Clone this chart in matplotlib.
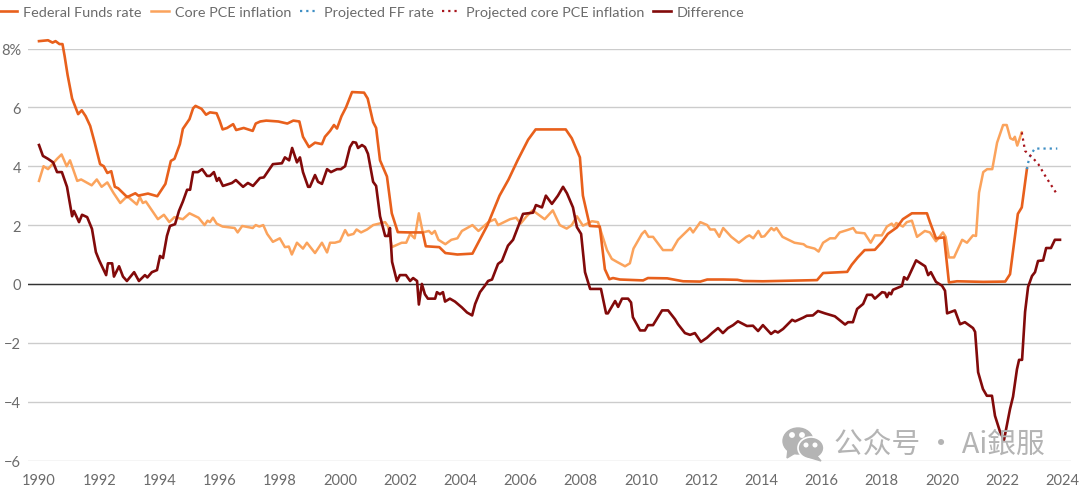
import matplotlib
matplotlib.use("Agg")

import matplotlib.pyplot as plt
from matplotlib.patches import Ellipse, Polygon

plt.rcParams["font.family"] = ["Lato", "Noto Sans CJK SC", "DejaVu Sans"]

ff_years = [1990.0, 1990.3, 1990.45, 1990.55, 1990.68, 1990.78, 1990.85, 1990.95, 1991.1, 1991.3, 1991.42, 1991.55, 1991.7,
            1991.85, 1992.03, 1992.15, 1992.27, 1992.4, 1992.52, 1992.63, 1992.93, 1993.2, 1993.3, 1993.62, 1993.93,
            1994.2, 1994.38, 1994.5, 1994.68, 1994.78, 1995.0, 1995.12, 1995.2, 1995.4, 1995.55, 1995.68, 1995.9,
            1996.0, 1996.1, 1996.25, 1996.45, 1996.55, 1996.8, 1997.1, 1997.2, 1997.35, 1997.55, 1997.95, 1998.25,
            1998.45, 1998.65, 1998.77, 1998.97, 1999.17, 1999.4, 1999.5, 1999.67, 1999.8, 1999.9, 2000.05, 2000.2,
            2000.4, 2000.8, 2000.92, 2001.1, 2001.2, 2001.33, 2001.56, 2001.72, 2001.92, 2002.3, 2002.75, 2002.85,
            2003.3, 2003.5, 2003.9, 2004.4, 2004.9, 2005.3, 2005.6, 2005.9, 2006.25, 2006.5, 2007.5, 2007.7, 2007.97,
            2008.07, 2008.3, 2008.63, 2008.8, 2008.95, 2009.07, 2009.3, 2010.07, 2010.23, 2010.87, 2011.4, 2011.97,
            2012.2, 2012.73, 2013.2, 2013.4, 2014.05, 2015.3, 2015.7, 2015.85, 2016.05, 2016.85, 2017.0, 2017.2,
            2017.43, 2017.77, 2018.0, 2018.2, 2018.5, 2018.7, 2019.0, 2019.5, 2019.6, 2019.8, 2020.07, 2020.23,
            2020.5, 2021.37, 2022.1, 2022.26, 2022.52, 2022.65, 2022.82]
ff_rate = [8.25, 8.28, 8.2, 8.25, 8.15, 8.15, 7.75, 7.1, 6.3, 5.77, 5.9, 5.7, 5.37,
           4.8, 4.07, 4.0, 3.77, 3.83, 3.3, 3.25, 2.95, 3.08, 3.0, 3.07, 2.98,
           3.4, 4.18, 4.25, 4.75, 5.27, 5.6, 5.97, 6.05, 5.95, 5.75, 5.83, 5.8,
           5.55, 5.25, 5.3, 5.43, 5.23, 5.3, 5.2, 5.45, 5.52, 5.55, 5.52, 5.45,
           5.55, 5.52, 5.0, 4.65, 4.8, 4.75, 5.0, 5.2, 5.4, 5.28, 5.7, 6.0,
           6.52, 6.5, 6.3, 5.5, 5.3, 4.2, 3.65, 2.4, 1.76, 1.75, 1.75, 1.28,
           1.25, 1.05, 1.0, 1.03, 2.0, 3.0, 3.55, 4.2, 4.9, 5.25, 5.25, 4.95, 4.3,
           3.0, 1.97, 1.95, 0.5, 0.16, 0.2, 0.15, 0.12, 0.2, 0.19, 0.09, 0.08,
           0.15, 0.15, 0.14, 0.1, 0.09, 0.12, 0.13, 0.13, 0.37, 0.41, 0.65, 0.9,
           1.15, 1.16, 1.42, 1.7, 1.92, 2.2, 2.4, 2.4, 2.1, 1.55, 1.58, 0.05,
           0.09, 0.07, 0.08, 0.33, 2.38, 2.6, 3.9]

pce_years = [1990.0, 1990.15, 1990.3, 1990.6, 1990.75, 1990.92, 1991.03, 1991.27, 1991.4, 1991.75, 1991.92, 1992.08,
             1992.27, 1992.47, 1992.7, 1992.93, 1993.25, 1993.35, 1993.45, 1993.55, 1993.95, 1994.15, 1994.33, 1994.5,
             1994.78, 1995.0, 1995.3, 1995.5, 1995.6, 1995.68, 1995.78, 1995.9, 1996.1, 1996.5, 1996.6, 1996.75, 1997.1,
             1997.2, 1997.32, 1997.45, 1997.58, 1997.77, 1998.0, 1998.17, 1998.3, 1998.4, 1998.57, 1998.77, 1998.9,
             1999.17, 1999.4, 1999.57, 1999.67, 1999.83, 2000.0, 2000.17, 2000.27, 2000.45, 2000.55, 2000.7, 2000.9,
             2001.1, 2001.5, 2001.6, 2001.72, 2002.05, 2002.2, 2002.33, 2002.48, 2002.62, 2002.75, 2002.95, 2003.05,
             2003.15, 2003.27, 2003.5, 2003.7, 2003.9, 2004.05, 2004.4, 2004.6, 2004.93, 2005.15, 2005.25, 2005.65, 2005.85,
             2006.0, 2006.2, 2006.4, 2006.8, 2007.07, 2007.3, 2007.53, 2007.7, 2007.87, 2008.07, 2008.37, 2008.57, 2008.87,
             2009.03, 2009.2, 2009.47, 2009.63, 2009.75, 2010.03, 2010.13, 2010.25, 2010.4, 2010.73, 2011.03, 2011.23,
             2011.63, 2011.73, 2011.97, 2012.2, 2012.3, 2012.45, 2012.6, 2012.73, 2013.0, 2013.25, 2013.5, 2013.6, 2013.73,
             2013.9, 2014.0, 2014.1, 2014.33, 2014.42, 2014.5, 2014.7, 2015.1, 2015.4, 2015.5, 2015.77, 2015.9, 2016.05,
             2016.28, 2016.45, 2016.6, 2016.85, 2017.05, 2017.15, 2017.43, 2017.63, 2017.77, 2018.0, 2018.17, 2018.33,
             2018.4, 2018.48, 2018.7, 2018.83, 2019.0, 2019.17, 2019.43, 2019.6, 2019.8, 2020.03, 2020.12, 2020.23,
             2020.4, 2020.67, 2020.83, 2021.03, 2021.13, 2021.23, 2021.37, 2021.5, 2021.67, 2021.83, 2022.03, 2022.15,
             2022.27, 2022.37, 2022.42, 2022.5, 2022.65]
pce_rate = [3.5, 4.0, 3.9, 4.25, 4.4, 4.0, 4.2, 3.5, 3.55, 3.35, 3.55, 3.3,
            3.45, 3.1, 2.75, 2.98, 2.7, 2.95, 2.75, 2.8, 2.2, 2.35, 2.1, 2.27,
            2.2, 2.4, 2.25, 2.0, 2.15, 2.1, 2.25, 2.05, 1.95, 1.9, 1.75, 1.97, 1.9,
            2.0, 1.95, 2.0, 1.7, 1.43, 1.55, 1.25, 1.27, 1.0, 1.4, 1.2, 1.4,
            1.05, 1.4, 1.07, 1.4, 1.4, 1.45, 1.83, 1.65, 1.7, 1.85, 1.75, 1.85,
            2.0, 2.1, 1.95, 1.25, 1.4, 1.4, 1.7, 1.55, 2.4, 1.75, 1.8, 1.7,
            1.8, 1.5, 1.35, 1.5, 1.55, 1.8, 2.0, 1.8, 2.1, 2.2, 2.0, 2.2, 2.25,
            2.05, 2.3, 2.5, 2.2, 2.5, 2.0, 1.88, 2.0, 2.3, 1.98, 2.13, 2.1, 1.15,
            0.85, 0.75, 0.6, 0.7, 1.2, 1.7, 1.8, 1.6, 1.6, 1.15, 1.15, 1.5,
            1.9, 1.75, 2.1, 2.0, 1.85, 1.85, 1.6, 1.9, 1.6, 1.4, 1.6, 1.65, 1.55,
            1.8, 1.6, 1.62, 1.9, 1.82, 1.9, 1.6, 1.4, 1.35, 1.27, 1.2, 1.1, 1.4,
            1.55, 1.55, 1.75, 1.83, 1.9, 1.75, 1.72, 1.4, 1.65, 1.65, 1.95, 2.05,
            1.95, 2.07, 1.95, 2.1, 2.15, 1.6, 1.8, 1.75, 1.45, 1.75, 1.6, 0.9,
            0.9, 1.5, 1.4, 1.65, 1.63, 3.1, 3.8, 3.9, 3.9, 4.8, 5.4, 5.4,
            4.95, 4.9, 5.0, 4.7, 5.15]

proj_ff_years = [2022.82, 2022.9, 2023.08, 2023.83]
proj_ff = [3.9, 4.3, 4.6, 4.6]

proj_pce_years = [2022.65, 2022.76, 2023.0, 2023.2, 2023.43, 2023.8]
proj_pce = [5.15, 4.52, 4.3, 4.07, 3.67, 3.08]

diff_years = [1990.0, 1990.13, 1990.3, 1990.47, 1990.6, 1990.76, 1990.93, 1991.1, 1991.16, 1991.33,
              1991.43, 1991.6, 1991.76, 1991.89, 1992.0, 1992.23, 1992.29, 1992.43, 1992.49, 1992.66,
              1992.79, 1992.92, 1993.16, 1993.32, 1993.52, 1993.6, 1993.75, 1993.92, 1994.02, 1994.12,
              1994.25, 1994.35, 1994.52, 1994.65, 1994.78, 1994.92, 1995.02, 1995.12, 1995.28, 1995.42,
              1995.58, 1995.68, 1995.81, 1995.91, 1995.98, 1996.11, 1996.41, 1996.54, 1996.78, 1996.94,
              1997.11, 1997.34, 1997.47, 1997.77, 1998.07, 1998.17, 1998.31, 1998.41, 1998.57, 1998.67,
              1998.77, 1998.94, 1999.0, 1999.17, 1999.27, 1999.4, 1999.57, 1999.7, 1999.9, 2000.03,
              2000.17, 2000.33, 2000.43, 2000.53, 2000.6, 2000.73, 2000.83, 2000.93, 2001.1, 2001.2,
              2001.33, 2001.5, 2001.6, 2001.66, 2001.73, 2001.89, 2001.99, 2002.19, 2002.33, 2002.43,
              2002.56, 2002.62, 2002.72, 2002.82, 2002.92, 2003.16, 2003.22, 2003.32, 2003.42, 2003.49,
              2003.65, 2003.82, 2004.05, 2004.22, 2004.39, 2004.49, 2004.65, 2004.82, 2004.92, 2005.05,
              2005.25, 2005.38, 2005.58, 2005.75, 2006.08, 2006.25, 2006.41, 2006.51, 2006.71, 2006.84,
              2007.04, 2007.24, 2007.41, 2007.54, 2007.74, 2007.87, 2008.01, 2008.14, 2008.31, 2008.67,
              2008.84, 2008.9, 2009.14, 2009.24, 2009.37, 2009.57, 2009.67, 2009.73, 2009.97, 2010.13,
              2010.23, 2010.4, 2010.7, 2010.9, 2011.13, 2011.23, 2011.46, 2011.63, 2011.79, 2011.99,
              2012.19, 2012.36, 2012.56, 2012.72, 2012.89, 2013.06, 2013.22, 2013.52, 2013.72, 2013.89,
              2014.05, 2014.32, 2014.45, 2014.55, 2014.72, 2015.02, 2015.12, 2015.38, 2015.51, 2015.71,
              2015.88, 2016.11, 2016.44, 2016.78, 2016.88, 2017.04, 2017.18, 2017.38, 2017.51, 2017.67,
              2017.77, 2018.01, 2018.11, 2018.17, 2018.24, 2018.31, 2018.37, 2018.67, 2018.74, 2018.84,
              2018.9, 2019.14, 2019.44, 2019.54, 2019.63, 2019.8, 2020.0, 2020.1, 2020.17, 2020.43,
              2020.6, 2020.76, 2021.03, 2021.1, 2021.2, 2021.36, 2021.49, 2021.66, 2021.76, 2021.93,
              2022.06, 2022.26, 2022.36, 2022.49, 2022.56, 2022.66, 2022.76, 2022.86, 2022.99, 2023.09,
              2023.19, 2023.36, 2023.46, 2023.62, 2023.75, 2023.92]
difference = [4.72, 4.35, 4.25, 4.13, 3.8, 3.8, 3.3, 2.3, 2.48, 2.1,
              2.35, 2.27, 1.87, 1.08, 0.8, 0.3, 0.7, 0.7, 0.25, 0.6,
              0.25, 0.1, 0.4, 0.1, 0.3, 0.22, 0.4, 0.47, 0.95, 0.88,
              1.63, 1.97, 2.03, 2.48, 2.8, 3.2, 3.2, 3.8, 3.8, 3.9,
              3.67, 3.67, 3.8, 3.5, 3.6, 3.33, 3.43, 3.53, 3.3, 3.43,
              3.33, 3.6, 3.62, 4.07, 4.1, 4.3, 4.2, 4.62, 4.13, 4.3,
              3.8, 3.3, 3.3, 3.7, 3.47, 3.4, 3.9, 3.8, 3.9, 3.9,
              4.0, 4.65, 4.82, 4.8, 4.62, 4.72, 4.65, 4.42, 3.47, 3.33,
              2.3, 1.63, 1.63, 1.9, 0.75, 0.1, 0.3, 0.3, 0.1, 0.2,
              0.1, -0.7, 0.0, -0.35, -0.5, -0.5, -0.28, -0.35, -0.28, -0.6,
              -0.5, -0.6, -0.8, -0.97, -1.07, -0.68, -0.28, -0.05, 0.1, 0.15,
              0.68, 0.78, 1.3, 1.5, 2.38, 2.4, 2.42, 2.68, 2.6, 3.0,
              2.72, 3.0, 3.3, 3.08, 2.6, 1.93, 1.7, 0.4, -0.17, -0.17,
              -1.0, -1.0, -0.58, -0.78, -0.5, -0.5, -0.63, -1.13, -1.58, -1.58,
              -1.4, -1.4, -0.9, -0.9, -1.2, -1.37, -1.67, -1.73, -1.67, -1.97,
              -1.83, -1.67, -1.5, -1.67, -1.5, -1.4, -1.27, -1.43, -1.42, -1.6,
              -1.4, -1.7, -1.6, -1.65, -1.53, -1.22, -1.27, -1.15, -1.08, -1.07,
              -0.92, -1.0, -1.1, -1.38, -1.3, -1.3, -0.85, -0.68, -0.37, -0.37,
              -0.5, -0.28, -0.3, -0.45, -0.3, -0.35, -0.2, -0.07, 0.23, 0.15,
              0.27, 0.8, 0.6, 0.3, 0.4, 0.07, -0.06, -0.23, -1.0, -0.9,
              -1.37, -1.3, -1.5, -1.63, -3.0, -3.57, -3.8, -3.8, -4.48, -5.03,
              -5.3, -4.25, -3.83, -2.9, -2.58, -2.58, -0.95, -0.1, 0.27, 0.4,
              0.78, 0.8, 1.22, 1.22, 1.5, 1.5]

x_ticks = list(range(1990, 2025, 2))
y_ticks = [-6, -4, -2, 0, 2, 4, 6, 8]
y_labels = ["−6", "−4", "−2", "0", "2", "4", "6", "8%"]

COL_FF = "#e8601c"
COL_PCE = "#fba35c"
COL_PROJ_FF = "#3f8fc4"
COL_PROJ_PCE = "#a8141c"
COL_DIFF = "#820a0a"
COL_TEXT = "#6b6b6b"

fig = plt.figure(figsize=(10.8, 4.89), dpi=100)

# axes box runs from the left end of the gridlines to the right end, 8 to -6
ax = fig.add_axes([28 / 1080, 1 - 461.5 / 489, (1071 - 28) / 1080, (461.5 - 49.5) / 489])
ax.set_xlim(1990 - 11 / 30.1, 1990 + 1032 / 30.1)
ax.set_ylim(-6, 8)

ax.grid(True, axis="y", color="#cccccc", linewidth=1.0)
ax.set_axisbelow(True)
for side in ax.spines:
    ax.spines[side].set_visible(False)
ax.axhline(0, color="#333333", linewidth=1.0, zorder=1)

ax.plot(pce_years, pce_rate, color=COL_PCE, lw=1.8, label="Core PCE inflation", clip_on=False, zorder=2)
ax.plot(ff_years, ff_rate, color=COL_FF, lw=1.9, label="Federal Funds rate", clip_on=False, zorder=3)
ax.plot(proj_ff_years, proj_ff, color=COL_PROJ_FF, lw=1.6, ls=(0, (1, 1.8)), label="Projected FF rate", zorder=4)
ax.plot(proj_pce_years, proj_pce, color=COL_PROJ_PCE, lw=1.6, ls=(0, (1, 1.8)),
        label="Projected core PCE inflation", zorder=5)
ax.plot(diff_years, difference, color=COL_DIFF, lw=1.9, label="Difference", clip_on=False, zorder=6)

ax.set_xticks(x_ticks)
ax.set_xticklabels([str(y) for y in x_ticks])
ax.set_yticks(y_ticks)
ax.set_yticklabels(y_labels)
ax.tick_params(axis="both", length=0, labelsize=10.5, labelcolor=COL_TEXT)
ax.tick_params(axis="y", pad=5)
ax.tick_params(axis="x", pad=9)

handles, labels = ax.get_legend_handles_labels()
order = [1, 0, 2, 3, 4]
fig.legend([handles[i] for i in order], [labels[i] for i in order], ncol=5, frameon=False,
           loc="upper left", bbox_to_anchor=(-0.0125, 1.013), fontsize=10.35, labelcolor=COL_TEXT,
           handlelength=1.25, handletextpad=0.42, columnspacing=0.6)

# watermark in pixel coordinates
wm = fig.add_axes([0, 0, 1, 1], facecolor="none")
wm.set_xlim(0, 1080)
wm.set_ylim(489, 0)
wm.axis("off")
GREY = "#b4b4b4"
wm.add_patch(Ellipse((798, 442), 30, 26, color=GREY))
wm.add_patch(Polygon([(788, 450), (787, 459), (797, 453)], color=GREY))
wm.add_patch(Ellipse((811, 449), 26, 22, fc=GREY, ec="white", lw=1.2))
wm.add_patch(Polygon([(816, 456), (821, 462), (808, 458)], color=GREY))
for ex, ey, er in [(792, 436, 2.2), (802, 436, 2.2), (806, 446, 1.8), (815, 446, 1.8)]:
    wm.add_patch(Ellipse((ex, ey), er * 2, er * 2, color="white"))
wm.text(834, 445, "公众号 · Ai銀服", fontsize=20.7, color=GREY, va="center", ha="left",
        family=["Noto Sans CJK SC", "DejaVu Sans"])

fig.savefig("out.png", dpi=100)
